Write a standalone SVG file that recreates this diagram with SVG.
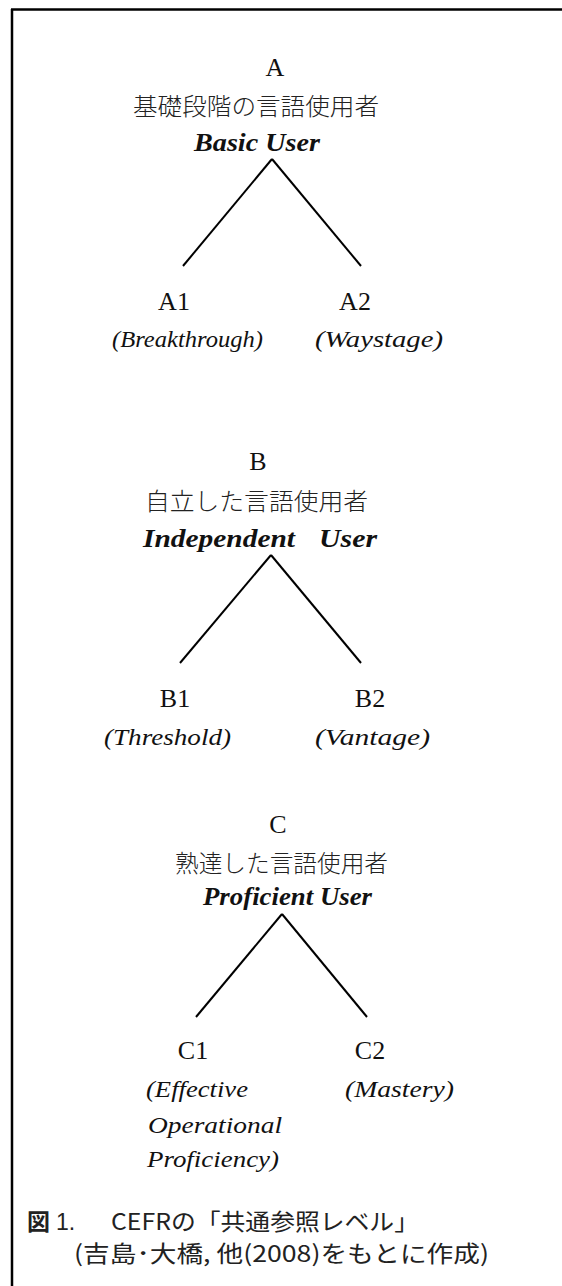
<svg xmlns="http://www.w3.org/2000/svg" width="562" height="1286" viewBox="0 0 562 1286">
<style>
.lat{font-family:"Liberation Serif","DejaVu Serif",serif;font-size:26px;fill:#111;text-anchor:middle}
.jp{font-family:"Noto Sans CJK JP","Noto Sans CJK SC",sans-serif;font-size:24px;font-weight:300;fill:#222}
.en{font-family:"Liberation Serif","DejaVu Serif",serif;font-size:25px;font-style:italic;font-weight:bold;fill:#111}
.sub{font-family:"Liberation Serif","DejaVu Serif",serif;font-size:24px;font-style:italic;fill:#111}
.cap{font-family:"Noto Sans CJK JP","Noto Sans CJK SC",sans-serif;font-size:23px;fill:#222}
.edge{stroke:#000;stroke-width:2;fill:none}
</style>
<rect width="562" height="1286" fill="#fff"/>
<g id="frame">
<line x1="11" y1="9.5" x2="562" y2="9.5" stroke="#000" stroke-width="2.5"/>
<line x1="12" y1="9" x2="12" y2="1286" stroke="#000" stroke-width="2.5"/>
</g>
<g id="connectors">
<line class="edge" x1="272" y1="159" x2="183" y2="266"/>
<line class="edge" x1="272" y1="159" x2="361" y2="266"/>
<line class="edge" x1="271" y1="555" x2="180" y2="663"/>
<line class="edge" x1="271" y1="555" x2="361" y2="663"/>
<line class="edge" x1="282" y1="914" x2="196" y2="1017"/>
<line class="edge" x1="282" y1="914" x2="367" y2="1017"/>
</g>
<g id="nodeA">
<text class="lat" x="275" y="76">A</text>
<text class="jp" x="133" y="115" textLength="246" lengthAdjust="spacingAndGlyphs">基礎段階の言語使用者</text>
<text class="en" x="194" y="151" textLength="126" lengthAdjust="spacingAndGlyphs">Basic User</text>
</g>
<g id="nodeA1">
<text class="lat" x="174" y="310">A1</text>
<text class="sub" x="112" y="347" textLength="151" lengthAdjust="spacingAndGlyphs">(Breakthrough)</text>
</g>
<g id="nodeA2">
<text class="lat" x="355" y="310">A2</text>
<text class="sub" x="315" y="347" textLength="128" lengthAdjust="spacingAndGlyphs">(Waystage)</text>
</g>
<g id="nodeB">
<text class="lat" x="258" y="470">B</text>
<text class="jp" x="145" y="510" textLength="223" lengthAdjust="spacingAndGlyphs">自立した言語使用者</text>
<text class="en" x="143" y="547" textLength="152" lengthAdjust="spacingAndGlyphs">Independent</text>
<text class="en" x="319" y="547" textLength="58" lengthAdjust="spacingAndGlyphs">User</text>
</g>
<g id="nodeB1">
<text class="lat" x="175" y="707">B1</text>
<text class="sub" x="104" y="745" textLength="127" lengthAdjust="spacingAndGlyphs">(Threshold)</text>
</g>
<g id="nodeB2">
<text class="lat" x="370" y="707">B2</text>
<text class="sub" x="315" y="745" textLength="115" lengthAdjust="spacingAndGlyphs">(Vantage)</text>
</g>
<g id="nodeC">
<text class="lat" x="278" y="833">C</text>
<text class="jp" x="175" y="872" textLength="213" lengthAdjust="spacingAndGlyphs">熟達した言語使用者</text>
<text class="en" x="203" y="905" textLength="169" lengthAdjust="spacingAndGlyphs">Proficient User</text>
</g>
<g id="nodeC1">
<text class="lat" x="193" y="1059">C1</text>
<text class="sub" x="146" y="1097" textLength="102" lengthAdjust="spacingAndGlyphs">(Effective</text>
<text class="sub" x="148" y="1133" textLength="134" lengthAdjust="spacingAndGlyphs">Operational</text>
<text class="sub" x="147" y="1167" textLength="132" lengthAdjust="spacingAndGlyphs">Proficiency)</text>
</g>
<g id="nodeC2">
<text class="lat" x="370" y="1059">C2</text>
<text class="sub" x="345" y="1097" textLength="109" lengthAdjust="spacingAndGlyphs">(Mastery)</text>
</g>
<g id="caption">
<text class="cap" x="27" y="1230"><tspan font-weight="bold">図</tspan><tspan font-family="Liberation Sans,sans-serif" dx="6">1.</tspan></text>
<text class="cap" x="111" y="1230" textLength="308" lengthAdjust="spacingAndGlyphs">CEFRの「共通参照レベル」</text>
<text class="cap" x="74" y="1262" textLength="415" lengthAdjust="spacingAndGlyphs">(吉島･大橋, 他(2008)をもとに作成)</text>
</g>
</svg>
